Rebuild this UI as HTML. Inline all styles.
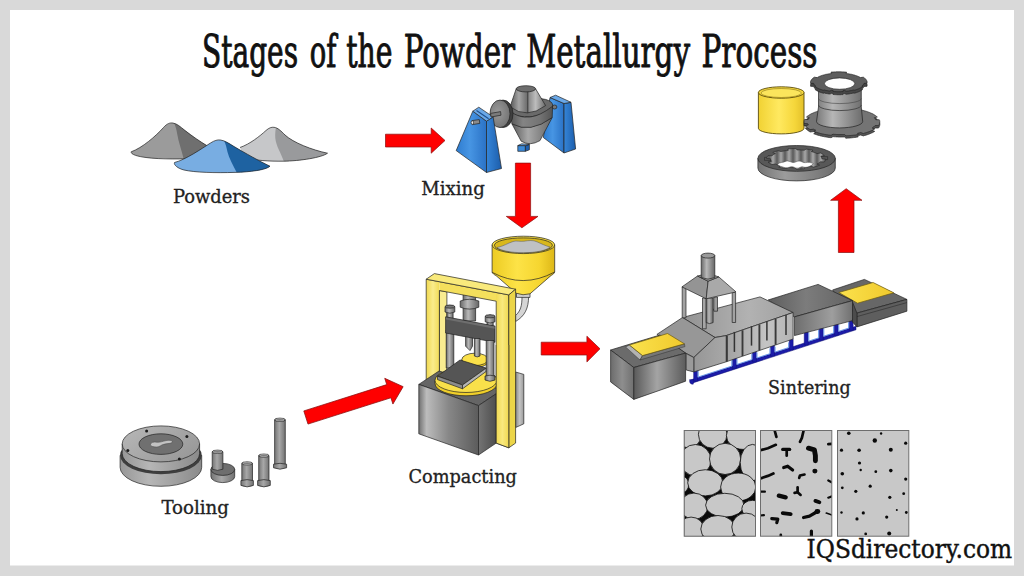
<!DOCTYPE html>
<html lang="en">
<head>
<meta charset="utf-8">
<title>Stages of the Powder Metallurgy Process</title>
<style>
html,body{margin:0;padding:0;background:#d9d9d9;}
body{width:1024px;height:576px;overflow:hidden;position:relative;font-family:"DejaVu Serif Condensed","DejaVu Serif","Liberation Serif",serif;}
#stage{position:absolute;left:0;top:0;width:1024px;height:576px;display:block;}
.ttl{font-family:"DejaVu Serif Condensed","DejaVu Serif","Liberation Serif",serif;font-size:45.3px;fill:#111;stroke:#111;stroke-width:0.95;stroke-linejoin:round;}
.lbl{font-family:"DejaVu Serif Condensed","DejaVu Serif","Liberation Serif",serif;font-size:18.4px;fill:#222;stroke:#222;stroke-width:0.3;}
.brand{font-family:"DejaVu Serif Condensed","DejaVu Serif","Liberation Serif",serif;font-size:25.5px;fill:#111;stroke:#111;stroke-width:0.4;}
.ol{stroke:#222;stroke-width:0.7;stroke-linejoin:round;}
.arrow{fill:#fe0000;stroke:#8a0f0f;stroke-width:0.7;stroke-linejoin:miter;}
</style>
</head>
<body>
<svg id="stage" width="1024" height="576" viewBox="0 0 1024 576">
<defs>

<linearGradient id="bF" x1="0" y1="0" x2="1" y2="0"><stop offset="0" stop-color="#2e7cd0"/><stop offset="0.45" stop-color="#4795e3"/><stop offset="1" stop-color="#2a72c6"/></linearGradient>
<linearGradient id="bS" x1="0" y1="0" x2="1" y2="0"><stop offset="0" stop-color="#3585d8"/><stop offset="1" stop-color="#1c5dab"/></linearGradient>
<linearGradient id="gCone" x1="0" y1="0" x2="1" y2="0"><stop offset="0" stop-color="#555"/><stop offset="0.25" stop-color="#a5a5a5"/><stop offset="0.47" stop-color="#707070"/><stop offset="0.5" stop-color="#3c3c3c"/><stop offset="0.53" stop-color="#8a8a8a"/><stop offset="0.72" stop-color="#bdbdbd"/><stop offset="1" stop-color="#6a6a6a"/></linearGradient>
<linearGradient id="gBand" x1="0" y1="0" x2="1" y2="0"><stop offset="0" stop-color="#565656"/><stop offset="0.3" stop-color="#848484"/><stop offset="0.7" stop-color="#747474"/><stop offset="1" stop-color="#545454"/></linearGradient>
<linearGradient id="gLow" x1="0" y1="0" x2="1" y2="0"><stop offset="0" stop-color="#5a5a5a"/><stop offset="0.4" stop-color="#a8a8a8"/><stop offset="1" stop-color="#646464"/></linearGradient>
<radialGradient id="gPul" cx="0.4" cy="0.45" r="0.7"><stop offset="0" stop-color="#9a9a9a"/><stop offset="1" stop-color="#6e6e6e"/></radialGradient>

<linearGradient id="yHop" x1="0" y1="0" x2="1" y2="0"><stop offset="0" stop-color="#eccb22"/><stop offset="0.4" stop-color="#fde347"/><stop offset="0.75" stop-color="#f6d630"/><stop offset="1" stop-color="#ddb717"/></linearGradient>
<linearGradient id="yCol" gradientUnits="userSpaceOnUse" x1="426" y1="0" x2="440" y2="0"><stop offset="0" stop-color="#f0d84e"/><stop offset="0.5" stop-color="#faec8c"/><stop offset="1" stop-color="#f1da52"/></linearGradient>
<linearGradient id="yColR" gradientUnits="userSpaceOnUse" x1="496" y1="0" x2="509" y2="0"><stop offset="0" stop-color="#f1da52"/><stop offset="0.5" stop-color="#f9e97e"/><stop offset="1" stop-color="#f0d84e"/></linearGradient>
<linearGradient id="gBlkF" x1="0" y1="0" x2="1" y2="0"><stop offset="0" stop-color="#707070"/><stop offset="0.13" stop-color="#bcbcbc"/><stop offset="0.5" stop-color="#878787"/><stop offset="1" stop-color="#5c5c5c"/></linearGradient>
<linearGradient id="gBlkS" x1="0" y1="0" x2="1" y2="0"><stop offset="0" stop-color="#747474"/><stop offset="1" stop-color="#4e4e4e"/></linearGradient>
<linearGradient id="gRod" x1="0" y1="0" x2="1" y2="0"><stop offset="0" stop-color="#6a6a6a"/><stop offset="0.4" stop-color="#b8b8b8"/><stop offset="1" stop-color="#666"/></linearGradient>
<linearGradient id="gBox" x1="0" y1="0" x2="1" y2="0"><stop offset="0" stop-color="#8a8a8a"/><stop offset="0.5" stop-color="#c4c4c4"/><stop offset="1" stop-color="#9a9a9a"/></linearGradient>

<linearGradient id="fTop" x1="0" y1="0" x2="1" y2="0"><stop offset="0" stop-color="#929292"/><stop offset="0.6" stop-color="#b2b2b2"/><stop offset="1" stop-color="#a0a0a0"/></linearGradient>
<linearGradient id="fSide" x1="0" y1="0" x2="1" y2="0"><stop offset="0" stop-color="#a2a2a2"/><stop offset="0.6" stop-color="#c4c4c4"/><stop offset="1" stop-color="#b4b4b4"/></linearGradient>
<linearGradient id="fHoodS" x1="0" y1="0" x2="1" y2="0"><stop offset="0" stop-color="#969696"/><stop offset="1" stop-color="#a8a8a8"/></linearGradient>
<linearGradient id="cTop" x1="0" y1="0" x2="1" y2="0"><stop offset="0" stop-color="#5e5e5e"/><stop offset="0.45" stop-color="#7c7c7c"/><stop offset="1" stop-color="#636363"/></linearGradient>
<linearGradient id="cSide" x1="0" y1="0" x2="1" y2="0"><stop offset="0" stop-color="#6e6e6e"/><stop offset="0.65" stop-color="#9e9e9e"/><stop offset="1" stop-color="#707070"/></linearGradient>
<linearGradient id="eL" x1="0" y1="0" x2="1" y2="0"><stop offset="0" stop-color="#6c6c6c"/><stop offset="0.5" stop-color="#8e8e8e"/><stop offset="1" stop-color="#707070"/></linearGradient>
<linearGradient id="eR" x1="0" y1="0" x2="1" y2="0"><stop offset="0" stop-color="#5a5a5a"/><stop offset="0.45" stop-color="#a4a4a4"/><stop offset="1" stop-color="#5c5c5c"/></linearGradient>
<linearGradient id="yPl" x1="0" y1="0" x2="1" y2="0"><stop offset="0" stop-color="#fbe24d"/><stop offset="1" stop-color="#f0c92c"/></linearGradient>

<linearGradient id="yCyl" x1="0" y1="0" x2="1" y2="0"><stop offset="0" stop-color="#f1d233"/><stop offset="0.45" stop-color="#ffe960"/><stop offset="0.8" stop-color="#f5d63a"/><stop offset="1" stop-color="#e3c02a"/></linearGradient>
<linearGradient id="gBody" x1="0" y1="0" x2="1" y2="0"><stop offset="0" stop-color="#7a7a7a"/><stop offset="0.35" stop-color="#b6b6b6"/><stop offset="0.7" stop-color="#8e8e8e"/><stop offset="1" stop-color="#6c6c6c"/></linearGradient>
<linearGradient id="gRing" x1="0" y1="0" x2="1" y2="0"><stop offset="0" stop-color="#757575"/><stop offset="0.35" stop-color="#9c9c9c"/><stop offset="1" stop-color="#6e6e6e"/></linearGradient>
<linearGradient id="gTeeth" gradientUnits="userSpaceOnUse" x1="769" y1="0" x2="777" y2="0" spreadMethod="repeat"><stop offset="0" stop-color="#5a5a5a"/><stop offset="0.45" stop-color="#a0a0a0"/><stop offset="0.55" stop-color="#a0a0a0"/><stop offset="1" stop-color="#5a5a5a"/></linearGradient>
<!--DEFS-->
</defs>
<rect x="0" y="0" width="1024" height="576" fill="#d9d9d9"/>
<rect x="10" y="10" width="1004" height="555.5" fill="#ffffff"/>

<!-- ===== TITLE ===== -->
<g class="ttl">
<text x="202" y="67.2" textLength="96" lengthAdjust="spacingAndGlyphs">Stages</text>
<text x="309.8" y="67.2" textLength="26.6" lengthAdjust="spacingAndGlyphs">of</text>
<text x="346.2" y="67.2" textLength="46.3" lengthAdjust="spacingAndGlyphs">the</text>
<text x="403.8" y="67.2" textLength="111.2" lengthAdjust="spacingAndGlyphs">Powder</text>
<text x="526.2" y="67.2" textLength="163.8" lengthAdjust="spacingAndGlyphs">Metallurgy</text>
<text x="701.5" y="67.2" textLength="116" lengthAdjust="spacingAndGlyphs">Process</text>
</g>

<!-- ===== LABELS ===== -->
<g class="lbl">
<text x="173" y="203" textLength="77" lengthAdjust="spacingAndGlyphs">Powders</text>
<text x="421.3" y="195" textLength="63.5" lengthAdjust="spacingAndGlyphs">Mixing</text>
<text x="408.5" y="483.1" textLength="108.4" lengthAdjust="spacingAndGlyphs">Compacting</text>
<text x="161.5" y="514.4" textLength="67.5" lengthAdjust="spacingAndGlyphs">Tooling</text>
<text x="768.1" y="394" textLength="82.5" lengthAdjust="spacingAndGlyphs">Sintering</text>
</g>
<text class="brand" x="806.6" y="557.8" textLength="205.6" lengthAdjust="spacingAndGlyphs">IQSdirectory.com</text>

<!-- ===== ARROWS ===== -->
<g class="arrow">
<path d="M385.5 134.2H431.2V128L445 140.5L431.2 153.2V147H385.5Z"/>
<path d="M515.4 163.1H530.6V216.4H538L521.9 227.8L506.3 216.4H515.4Z"/>
<path d="M541.2 342.2H586.9V336.2L600 348.8L586.9 361.9V355H541.2Z"/>
<path d="M838.4 252.5V200.3H830.6L846.2 188.7L862 200.3H854V252.5Z"/>
<g transform="translate(305.9 417.5) rotate(-17.6)"><path d="M0 -6.9H87V-13.5L102 0L87 13.5V6.9H0Z"/></g>
</g>

<!-- ===== POWDERS ===== -->
<g id="powders">

<!-- dark grey pile -->
<path fill="#9b9b9b" d="M131.2 151.8C142 148 156 136 163.5 127.5C167 123.5 170 122.6 172.8 123C177 123.6 180 126.5 185 130.5C192 136 200 141.5 207.5 146L196 158.5C185 159 160 159.5 146 157.5C138 156.5 130.5 154.5 131.2 151.8Z"/>
<path fill="#6f6f6f" d="M174.3 123.4C177 124.2 180 126.5 185 130.5C192 136 200 141.5 207.5 146L196 158.3L183.6 158.6C181.5 150 178.5 142 177.2 134C176.6 130 175.5 126 174.3 123.4Z"/>
<path class="ol" fill="none" d="M207.5 146C200 141.5 192 136 185 130.5C180 126.5 177 123.6 172.8 123C170 122.6 167 123.5 163.5 127.5C156 136 142 148 131.2 151.8C130.5 154.5 138 156.5 146 157.5C160 159.5 185 159 196 158.5"/>
<!-- light grey pile -->
<path fill="#c6c7c9" d="M240 147.5C250 144 260 136 266 130.5C269 127.8 271.5 127 274 127.3C278 127.8 281 131 285 135C293 142.5 312 150 327.5 153.2C322 157.5 300 161 283 161.2C270 161.3 255 160.5 245 158Z"/>
<path fill="#999a9c" d="M275.8 127.8C278.5 128.6 281 131 285 135C293 142.5 312 150 327.5 153.2C322 157.5 300 161 283.8 161.2C281 153 276 146 275.3 138C275 134 275.5 130.5 275.8 127.8Z"/>
<path class="ol" fill="none" d="M240 147.5C250 144 260 136 266 130.5C269 127.8 271.5 127 274 127.3C278 127.8 281 131 285 135C293 142.5 312 150 327.5 153.2C322 157.5 300 161 283 161.2C270 161.3 255 160.5 245 158"/>
<!-- blue pile -->
<path fill="#78ade2" d="M174.5 162.5C185 160 202 148.5 210.5 143C214.5 140.4 217.5 139.6 220.5 140C225 140.6 229 143.5 234 146.5C245 153 260 161.5 270 166.2C266 170 250 172 235 172.4C215 173 195 172.5 184 170C178 168.5 173.5 165 174.5 162.5Z"/>
<path fill="#1e62a1" d="M224.2 141C228 142.3 231 144.7 234 146.5C245 153 260 161.5 270 166.2C266 170 250 172 236.6 172.3C233 165 229 158 227.5 152C226.5 148 226 144.5 224.2 141Z"/>
<path class="ol" fill="none" stroke="#1a2f45" d="M174.5 162.5C185 160 202 148.5 210.5 143C214.5 140.4 217.5 139.6 220.5 140C225 140.6 229 143.5 234 146.5C245 153 260 161.5 270 166.2C266 170 250 172 235 172.4C215 173 195 172.5 184 170C178 168.5 173.5 165 174.5 162.5Z"/>

</g>

<!-- ===== MIXING ===== -->
<g id="mixer">

<g class="ol">
<!-- right stand -->
<path fill="url(#bF)" d="M550 97.5L564 103.5L564 153L543.3 137.5Z"/>
<path fill="url(#bS)" d="M564 103.5L571 102.3L575.6 149L564 153Z"/>
<path fill="#6aa8e8" d="M550 97.5L555.6 95.2L571 102.3L564 103.5Z"/>
<ellipse cx="554.5" cy="107" rx="2.4" ry="2" fill="#777"/>
<!-- double cone -->
<ellipse cx="531.5" cy="107.6" rx="21.3" ry="9" transform="rotate(-7 531.5 107.6)" fill="#6a6a6a"/>
<path fill="url(#gLow)" d="M511.9 123.8L521.2 141.2Q530 146.5 540 140.6L552.2 117.5Q530 133 511.9 123.8Z"/>
<path fill="url(#gBand)" d="M510.4 111.2Q528 125.5 552.6 106.2L552.2 117.5Q530 134 511.9 123.8Z"/>
<path fill="url(#gCone)" d="M516.2 88.8L510 106.9Q527 119.5 545.6 105.6L535.6 88.8Z"/>
<ellipse cx="525.9" cy="88.8" rx="9.7" ry="3.1" fill="#6d6d6d"/>
<!-- small discharge box -->
<path fill="#3b8ad9" d="M517.8 145.6H525.4V151.3H517.8Z"/>
<path fill="#1d5fae" d="M525.4 145.6L529.4 144.4V149.8L525.4 151.3Z"/>
<path fill="#6aa8e8" d="M517.8 145.6L521.6 143.8L529.4 144.4L525.4 145.6Z"/>
<!-- pulley -->
<ellipse cx="503" cy="113.8" rx="10" ry="13.75" fill="#3f3f3f"/>
<ellipse cx="500" cy="113.8" rx="10" ry="13.75" fill="url(#gPul)"/>
<!-- left stand -->
<path fill="url(#bF)" d="M472.8 111.2L486.5 121.2L486.5 172.5L456.2 150.6Z"/>
<path fill="url(#bS)" d="M486.5 121.2L493.1 116.9L501.5 168.5L486.5 172.5Z"/>
<path fill="#6aa8e8" d="M472.8 111.2L478.8 107.2L493.1 116.9L486.5 121.2Z"/>
<path fill="none" stroke="#1b4f8f" stroke-width="1.1" d="M476.5 110.5L488.6 118.8"/>
<!-- shafts -->
<path fill="#7b7b7b" d="M490.6 113.4L500.6 111.6L501 115.2L491 117Z"/>
<path fill="#8a8a8a" d="M472 120.6L479.3 119.6L479.8 123.4L472.5 124.6Z"/>
<ellipse cx="472.3" cy="122.6" rx="1.2" ry="1.9" fill="#f2f2f2"/>
</g>

</g>

<!-- ===== COMPACTING ===== -->
<g id="press">

<g class="ol">
<!-- box behind right column -->
<path fill="url(#gBox)" d="M515.6 372L523.8 374.4V423.8L515.6 427.5Z"/>
<!-- feed tube -->
<path fill="#d5d5d5" d="M522 296.5C522 306 520.5 311 515.6 315.5V321.5C525 316 528.6 308 528.6 296.5Z"/>
<!-- hopper -->
<path fill="#cfcfcf" d="M516.5 292.5H530V297.4H516.5Z"/>
<path fill="url(#yHop)" d="M492.1 244.9V272.3C492.8 273.6 494 274.6 496 275.6L516.2 293.2Q523 296 530 293.8L551.2 275.4C553 274.5 554.2 273.4 554.7 272V244.9Z"/>
<path fill="none" d="M492.1 272.3Q523 289 554.7 272"/>
<ellipse cx="523.4" cy="244.9" rx="31.3" ry="8.7" fill="#f7dc3c"/>
<ellipse cx="523.4" cy="245.3" rx="29" ry="7.4" fill="#d9b81c"/>
<path fill="#bfc1c4" stroke="#555" stroke-width="0.5" d="M497 247.5C503 246.5 508 243 513 241.5C517 240.3 520 241.8 524 241.2C529 240.4 533 240 537 241.8C541 243.6 546 246 550 247C546.5 250.5 536 252.7 523.4 252.7C511 252.7 500.5 250.6 497 247.5Z"/>
<!-- ram (behind top beam) -->
<path fill="url(#gRod)" d="M463.1 294H475.6V321H463.1Z"/>
<path fill="url(#gRod)" d="M460.2 301Q469.5 297.5 478.8 301V307.2Q469.5 311 460.2 307.2Z"/>
<!-- inner face of left column -->
<path fill="#f9ec90" d="M439.4 290.5L446.9 291.9V380H439.4Z"/>
<!-- frame front face -->
<path fill="url(#yCol)" d="M426.2 279.2L439.4 281.7V386H426.2Z" stroke="none"/>
<path fill="#f4df5c" d="M439.4 281.7L508.8 294.9V303.6L496.2 301.2L439.4 290.5Z" stroke="none"/>
<path fill="url(#yColR)" d="M496.2 292.5L508.8 294.9V447.8L496.2 443.1Z" stroke="none"/>
<path fill="none" d="M426.2 386V279.2L508.8 294.9V447.8L496.2 443.1V301.2L439.4 290.5V386"/>
<path fill="#f9ea7c" d="M426.2 279.2L434.4 273.6L515.6 289.2L508.8 294.9Z"/>
<path fill="#ecd548" d="M508.8 294.9L515.6 289.2V443.1L508.8 447.8Z"/>
<!-- guide post caps + upper posts -->
<path fill="url(#gRod)" d="M446.9 309H453.1V319H446.9Z"/>
<path fill="url(#gRod)" d="M445 306.6Q449.9 304 454.8 306.6V312Q449.9 314.5 445 312Z"/>
<ellipse cx="449.9" cy="306.6" rx="4.9" ry="1.6" fill="#777"/>
<path fill="url(#gRod)" d="M487 318H493.2V328H487Z"/>
<path fill="url(#gRod)" d="M485.2 316.3Q490.1 313.7 495 316.3V321.8Q490.1 324.3 485.2 321.8Z"/>
<ellipse cx="490.1" cy="316.3" rx="4.9" ry="1.6" fill="#777"/>
<!-- left guide post, punch -->
<path fill="url(#gRod)" d="M446.2 330H453.8V368H446.2Z"/>
<path fill="url(#gRod)" d="M465.6 336H472.5V346.2L470 350.6L465.6 346.2Z"/>
<!-- crossbar -->
<path fill="#555" d="M445.6 316.8L495 326.1V342.3L445.6 333Z"/>
<path fill="#6e6e6e" stroke="none" d="M446 317.4L494.6 326.6V328.8L446 319.6Z"/>
<!-- base block -->
<path fill="#656565" d="M418.8 384.4L439 371L501 389.6V397L496.2 393.8L478.5 405.6Z"/>
<path fill="url(#gBlkF)" d="M418.8 384.4L478.5 405.6V455L418.8 433.8Z"/>
<path fill="url(#gBlkS)" d="M478.5 405.6L496.2 393.8V443.1L478.5 455Z"/>
<!-- big yellow disc -->
<path fill="#f0cf2a" d="M435 380.5V383.6A31 12.2 0 0 0 497 383.6V380.5Z"/>
<ellipse cx="466" cy="380.3" rx="31" ry="12.2" fill="#f9e04a"/>
<!-- small upper disc -->
<path fill="#eecb25" d="M461.9 359.4V361.4A13.1 6.2 0 0 0 488.1 361.4V359.4Z"/>
<ellipse cx="475" cy="359.4" rx="13.1" ry="6.2" fill="#fbe14a"/>
<!-- grey plate -->
<path fill="#555" d="M437.5 376.2L460 360L486.2 368.1L462.5 385Z"/>
<path fill="#8c8c8c" d="M437.5 376.2L462.5 385V388.8L437.5 379.6Z"/>
<path fill="#b5b5b5" d="M462.5 385L486.2 368.1V371.4L462.5 388.8Z"/>
<!-- centre rod and right guide post -->
<path fill="url(#gRod)" d="M474.4 338.5H480V356Q477.2 357.8 474.4 356Z"/>
<path fill="url(#gRod)" d="M486.2 340.5H494V378H486.2Z"/>
<path fill="url(#gRod)" d="M485 376Q490 374.4 495 376V380Q490 382.6 485 380Z"/>
<!-- right column over block -->
<path fill="url(#yColR)" stroke="none" d="M496.2 345H508.8V447.8L496.2 443.1Z"/>
<path fill="none" d="M496.2 345V443.1L508.8 447.8V345"/>
</g>

</g>

<!-- ===== TOOLING ===== -->
<g id="tooling">

<defs>
<linearGradient id="gDie" x1="0" y1="0" x2="1" y2="0"><stop offset="0" stop-color="#979797"/><stop offset="0.35" stop-color="#b6b6b6"/><stop offset="1" stop-color="#8a8a8a"/></linearGradient>
<linearGradient id="gDieT" x1="0" y1="0" x2="1" y2="0.6"><stop offset="0" stop-color="#b8b8b8"/><stop offset="1" stop-color="#9a9a9a"/></linearGradient>
<linearGradient id="gPin" x1="0" y1="0" x2="1" y2="0"><stop offset="0" stop-color="#747474"/><stop offset="0.45" stop-color="#a8a8a8"/><stop offset="1" stop-color="#727272"/></linearGradient>
</defs>
<g class="ol">
<!-- die: lower flange -->
<path fill="url(#gDie)" d="M120.1 455.3V467.3A40.8 19 0 0 0 201.7 467.3V455.3Z"/>
<ellipse cx="160.9" cy="455.3" rx="40.8" ry="19" fill="#3e3e3e" stroke="none"/>
<!-- die: upper body -->
<path fill="url(#gDie)" d="M122.2 443.9V453.6A38.7 18 0 0 0 199.6 453.6V443.9Z"/>
<ellipse cx="160.9" cy="443.9" rx="38.7" ry="18" fill="url(#gDieT)"/>
<ellipse cx="160.9" cy="444.1" rx="21.9" ry="10.3" fill="#707070"/>
<path fill="#c2c2c2" stroke="#444" stroke-width="0.5" d="M150.5 444.2C150.8 442.6 153.5 441.6 156.5 442.2C159.5 442.7 163 441.2 166 440.6C169 440 172 440.3 172.3 441.5C172.6 442.8 170.5 443.4 168 443.6C165 443.9 162 444.6 160.5 445.8C158.5 447.3 155 447.2 152.8 446.6C151 446.1 150.3 445.2 150.5 444.2Z"/>
<g fill="#1c1c1c" stroke="none"><circle cx="146.6" cy="430.9" r="1.5"/><circle cx="186.9" cy="436.6" r="1.5"/><circle cx="127.8" cy="450.6" r="1.5"/><circle cx="179.4" cy="459.1" r="1.5"/></g>
<!-- punch with base -->
<path fill="url(#gPin)" d="M210.9 469.4V476.6A11.9 6 0 0 0 234.7 476.6V469.4Z"/>
<ellipse cx="222.8" cy="469.4" rx="11.9" ry="6" fill="#6e6e6e"/>
<path fill="url(#gPin)" d="M212.2 451.8V469.2Q217.5 471.6 222.9 469.2V451.8Z"/>
<ellipse cx="217.55" cy="451.8" rx="5.35" ry="1.7" fill="#8c8c8c"/><ellipse cx="217.55" cy="451.8" rx="4.05" ry="1.15" fill="#7a7a7a" stroke="#c4c4c4" stroke-width="0.5"/>
<!-- pin 2 -->
<path fill="url(#gPin)" d="M241.8 463.4V481H252.5V463.4Z"/>
<ellipse cx="247.15" cy="463.4" rx="5.35" ry="1.6" fill="#8c8c8c"/><ellipse cx="247.15" cy="463.4" rx="4.05" ry="1.05" fill="#7a7a7a" stroke="#c4c4c4" stroke-width="0.5"/>
<path fill="url(#gPin)" d="M240.9 480.6Q247.15 478.6 253.4 480.6V485.4Q247.15 488.4 240.9 485.4Z"/>
<!-- pin 3 -->
<path fill="url(#gPin)" d="M258.7 455.6V481H269V455.6Z"/>
<ellipse cx="263.85" cy="455.6" rx="5.15" ry="1.6" fill="#8c8c8c"/><ellipse cx="263.85" cy="455.6" rx="3.85" ry="1.05" fill="#7a7a7a" stroke="#c4c4c4" stroke-width="0.5"/>
<path fill="url(#gPin)" d="M257.6 480.6Q263.9 478.6 270.3 480.6V485.4Q263.9 488.4 257.6 485.4Z"/>
<!-- pin 4 tall -->
<path fill="url(#gPin)" d="M274.6 419.8V465H285.3V419.8Z"/>
<ellipse cx="279.95" cy="419.8" rx="5.35" ry="1.7" fill="#8c8c8c"/><ellipse cx="279.95" cy="419.8" rx="4.05" ry="1.15" fill="#7a7a7a" stroke="#c4c4c4" stroke-width="0.5"/>
<path fill="url(#gPin)" d="M273.5 464.2Q280 462.4 286.6 464.2V467.8Q280 470.6 273.5 467.8Z"/>
</g>

</g>

<!-- ===== SINTERING FURNACE ===== -->
<g id="furnace">

<g id="rails">
<path fill="#1b1ba8" stroke="#0d0d70" stroke-width="0.5" d="M691.2 379.8L856 326.2V329.8L691.2 383.4Z"/>
<path fill="#1b1ba8" stroke="#0d0d70" stroke-width="0.4" d="M693.6 369.0H697.6V381.0H693.6Z"/>
<path fill="#1b1ba8" stroke="#0d0d70" stroke-width="0.4" d="M732.4 356.9H736.4V368.4H732.4Z"/>
<path fill="#1b1ba8" stroke="#0d0d70" stroke-width="0.4" d="M752.4 350.7H756.4V361.9H752.4Z"/>
<path fill="#1b1ba8" stroke="#0d0d70" stroke-width="0.4" d="M770.5 345.0H774.5V356.0H770.5Z"/>
<path fill="#1b1ba8" stroke="#0d0d70" stroke-width="0.4" d="M789.2 339.2H793.2V349.9H789.2Z"/>
<path fill="#1b1ba8" stroke="#0d0d70" stroke-width="0.4" d="M804.2 330.6H808.2V345.0H804.2Z"/>
<path fill="#1b1ba8" stroke="#0d0d70" stroke-width="0.4" d="M819.2 326.7H823.2V340.1H819.2Z"/>
<path fill="#1b1ba8" stroke="#0d0d70" stroke-width="0.4" d="M834.2 322.8H838.2V335.3H834.2Z"/>
<path fill="#1b1ba8" stroke="#0d0d70" stroke-width="0.4" d="M849.2 318.9H853.2V330.4H849.2Z"/>
<path fill="none" stroke="#5f93ea" stroke-width="0.9" d="M698.2 370.7V377.0L731.8 366.1V360.2"/>
<path fill="none" stroke="#5f93ea" stroke-width="0.9" d="M737.0 358.6V364.4L751.8 359.6V354.0"/>
<path fill="none" stroke="#5f93ea" stroke-width="0.9" d="M757.0 352.4V357.9L769.9 353.7V348.3"/>
<path fill="none" stroke="#5f93ea" stroke-width="0.9" d="M775.1 346.7V352.0L788.6 347.6V342.5"/>
<path fill="none" stroke="#5f93ea" stroke-width="0.9" d="M808.8 332.4V341.1L818.6 337.9V329.9"/>
<path fill="none" stroke="#5f93ea" stroke-width="0.9" d="M823.8 328.5V336.2L833.6 333.0V326.0"/>
<path fill="none" stroke="#5f93ea" stroke-width="0.9" d="M838.8 324.6V331.3L848.6 328.1V322.1"/>
<path fill="#1b1ba8" stroke="#0d0d70" stroke-width="0.4" d="M689.6 379.6Q689.2 384.8 693.2 384.2L694 380Z"/>
</g>
<g class="ol">
<!-- exit block -->
<path fill="#676767" d="M832.5 290L864.4 279.4L906.9 299.4L856.9 313.1L846 308Z"/>
<path fill="#5e5e5e" d="M856.9 313.1L906.9 299.4V311.2L856.9 326.9Z"/>
<path fill="none" stroke-width="0.5" d="M856.9 316.6L906.9 302.6"/>
<path fill="#4c4c4c" d="M852.5 302L856.9 313.1V326.9L852.5 322Z"/>
<path fill="url(#yPl)" stroke="#6b5a10" d="M838.8 292.5L873.1 282.5L893.8 292.8L857.5 303.2Z"/>
<!-- cooling section -->
<path fill="url(#cTop)" d="M768.1 300L818.1 284.4L852.5 300.6L794.4 316.9Z"/>
<path fill="url(#cSide)" d="M794.4 316.9L852.5 300.6V320.6L794.4 335.6Z"/>
<!-- main furnace -->
<path fill="url(#fTop)" d="M682.5 317.5L760 296.9L793.1 312.5L726.2 335.6L715 337.5Z"/>
<path fill="url(#fSide)" d="M726.2 335.6L793.1 312.5V339L726.2 361.8Z"/>
<g fill="none" stroke-linecap="butt">
<path stroke="#3a3a3a" stroke-width="1.9" d="M726.9 335.7V361.4"/>
<path stroke="#3a3a3a" stroke-width="1.9" d="M742.5 330.3V356.0"/>
<path stroke="#3a3a3a" stroke-width="1.9" d="M759.4 324.4V350.3"/>
<path stroke="#3a3a3a" stroke-width="1.9" d="M775.6 318.9V344.8"/>
<path stroke="#333" stroke-width="1.5" d="M734.4 331.9V351.9"/>
<path stroke="#333" stroke-width="1.5" d="M751.5 326.2V345.6"/>
<path stroke="#333" stroke-width="1.5" d="M766.9 321.2V340.6"/>
<path stroke="#333" stroke-width="1.5" d="M786 315V335"/>
</g>
<!-- hood -->
<path fill="#979797" d="M656.9 334.4L682.5 317.5L715 337.5L693.8 357.5L685.6 353.1Z"/>
<path fill="url(#fHoodS)" d="M693.8 357.5L715 337.5L726.2 335.6V361.8L693.8 371.9Z"/>
<path fill="#9a9a9a" d="M686.2 353.5L693.8 357.5V371.9L686.2 370Z"/>
<!-- entry block -->
<path fill="#6b6b6b" d="M610.6 350L660 335L685.6 353.1L633.8 367.5Z"/>
<path fill="url(#eL)" d="M610.6 350L633.8 367.5V399.4L610.6 381.9Z"/>
<path fill="url(#eR)" d="M633.8 367.5L685.6 353.1V381.2L633.8 399.4Z"/>
<path fill="#b2b2b2" stroke-width="0.4" d="M625.6 346.9L629.4 345L642.5 355.6L640 360Z"/>
<path fill="#777" stroke-width="0.4" d="M640 360L642.5 355.6L684.4 343.8L685 346.6Z"/>
<path fill="url(#yPl)" stroke="#6b5a10" d="M629.4 345L667.5 333.5L684.4 343.8L642.5 355.6Z"/>
<!-- canopy and chimney -->
<path fill="#9a9a9a" d="M713.8 297H717.5V311.2H713.8Z"/>
<path fill="#a2a2a2" d="M682.2 287H686V317.8H682.2Z"/>
<path fill="#a2a2a2" d="M732.2 292.5H735.6V322.5H732.2Z"/>
<path fill="#a6a6a6" d="M702.5 298H706.2V328.8H702.5Z"/>
<path fill="url(#gRod)" d="M706.2 298H713.1V322.6Q709.6 324.6 706.2 322.6Z"/>
<path fill="#949494" d="M697.5 276L708.1 281.2L706.2 298.8L681.9 286.9Z"/>
<path fill="#a9a9a9" d="M708.1 281.2L718.8 276.9L736 291.9L706.2 298.8Z"/>
<path fill="#9a9a9a" d="M697.5 276L708.2 273.4L718.8 276.9L708.1 281.2Z"/>
<path fill="url(#gRod)" d="M701.2 255.6V277.6Q708 280.6 714.8 277.6V255.6Z"/>
<ellipse cx="708" cy="255.6" rx="6.8" ry="2.5" fill="#9a9a9a"/>
</g>

</g>

<!-- ===== PRODUCTS ===== -->
<g id="products">

<g class="ol">
<!-- yellow bushing -->
<path fill="url(#yCyl)" stroke="#5a4c0c" stroke-width="0.9" d="M758.4 92.5V128.3A22.8 5.6 0 0 0 804 128.3V92.5Z"/>
<ellipse cx="781.2" cy="92.5" rx="22.8" ry="5.7" fill="#f5d83e" stroke="#5a4c0c" stroke-width="0.9"/>
<ellipse cx="781.2" cy="93" rx="20.2" ry="4.5" fill="#fbe55c" stroke="#8a7418" stroke-width="0.6"/>
<!-- flanged hub: bottom flange -->
<path fill="#555" d="M879.8 124.4L879.8 124.8L879.7 125.1L879.7 125.5L879.6 125.9L879.5 126.2L879.3 126.6L879.2 126.9L879.0 127.3L878.8 127.6L878.5 128.0L875.0 128.0L874.7 128.3L874.4 128.6L874.1 128.9L873.8 129.2L873.4 129.5L873.0 129.8L872.6 130.1L872.2 130.4L874.7 131.3L874.2 131.7L873.7 132.0L873.1 132.3L872.6 132.6L872.0 132.9L871.4 133.1L870.7 133.4L870.1 133.7L869.4 134.0L868.7 134.2L868.0 134.5L867.3 134.7L866.5 135.0L865.8 135.2L865.0 135.4L864.2 135.6L863.4 135.9L860.7 135.0L859.9 135.2L859.1 135.4L858.4 135.5L857.6 135.7L858.2 136.9L857.3 137.1L856.4 137.2L855.5 137.4L854.6 137.5L853.6 137.6L852.7 137.7L851.7 137.8L850.7 137.9L849.8 138.0L848.8 138.1L847.8 138.1L846.8 138.2L845.9 138.2L844.6 137.0L843.7 137.0L842.8 137.0L841.9 137.0L841.0 137.0L840.1 137.0L839.2 137.0L838.3 137.0L837.4 136.9L836.5 136.9L835.6 136.8L834.7 136.8L833.8 136.7L833.0 136.6L831.1 137.7L830.2 137.6L829.2 137.5L828.3 137.4L827.4 137.2L826.5 137.1L825.6 136.9L824.7 136.8L823.8 136.6L822.9 136.4L822.1 136.3L821.3 136.1L820.4 135.9L819.6 135.6L818.8 135.4L818.0 135.2L817.3 135.0L816.5 134.7L815.8 134.5L815.1 134.2L814.4 134.0L813.7 133.7L815.7 132.6L815.1 132.4L814.5 132.1L814.0 131.8L813.5 131.6L810.1 132.0L809.6 131.7L809.1 131.3L808.6 131.0L808.1 130.7L807.7 130.4L807.3 130.1L806.9 129.7L806.5 129.4L806.2 129.0L805.9 128.7L805.6 128.3L805.3 128.0L808.4 127.4L808.2 127.0L808.0 126.7L807.8 126.4L807.7 126.1L804.2 125.9L804.1 125.5L804.1 125.1L804.0 124.8L804.0 124.4L804.0 124.0L804.1 123.7L804.1 123.3L804.2 122.9L804.3 122.6L804.5 122.2L804.6 121.9L808.2 121.8L808.4 121.4L808.6 121.1L808.8 120.8L809.1 120.5L809.4 120.2L806.5 119.4L806.9 119.1L807.3 118.7L807.7 118.4L808.1 118.1L808.6 117.8L809.1 117.5L809.6 117.1L810.1 116.8L810.7 116.5L811.2 116.2L811.8 115.9L812.4 115.7L813.1 115.4L813.7 115.1L814.4 114.8L815.1 114.6L815.8 114.3L816.5 114.1L817.3 113.8L818.0 113.6L818.8 113.4L819.6 113.2L820.4 112.9L821.3 112.7L822.1 112.5L822.9 112.4L823.8 112.2L824.7 112.0L825.6 111.9L826.5 111.7L827.4 111.6L828.3 111.4L829.2 111.3L830.2 111.2L831.1 111.1L832.1 111.0L833.1 110.9L834.0 110.8L835.0 110.7L836.0 110.7L837.0 110.6L837.9 110.6L838.9 110.5L839.9 110.5L840.9 110.5L841.9 110.5L842.9 110.5L843.9 110.5L844.9 110.5L845.9 110.6L846.8 110.6L847.8 110.7L848.8 110.7L849.8 110.8L850.7 110.9L851.7 111.0L852.7 111.1L853.6 111.2L854.6 111.3L855.5 111.4L856.4 111.6L857.3 111.7L858.2 111.9L859.1 112.0L860.0 112.2L860.9 112.4L861.7 112.5L862.5 112.7L863.4 112.9L864.2 113.2L865.0 113.4L865.8 113.6L866.5 113.8L867.3 114.1L868.0 114.3L868.7 114.6L869.4 114.8L870.1 115.1L870.7 115.4L871.4 115.7L872.0 115.9L872.6 116.2L873.1 116.5L873.7 116.8L874.2 117.1L874.7 117.5L875.2 117.8L875.7 118.1L876.1 118.4L876.5 118.7L876.9 119.1L877.3 119.4L874.4 120.2L874.7 120.5L875.0 120.8L875.2 121.1L875.4 121.4L875.6 121.8L875.8 122.1L879.3 122.2L879.5 122.6L879.6 122.9L879.7 123.3L879.7 123.7L879.8 124.0Z"/>
<path fill="#747474" d="M879.8 122.0L879.8 122.4L879.7 122.7L879.7 123.1L879.6 123.5L879.5 123.8L879.3 124.2L879.2 124.5L879.0 124.9L878.8 125.2L878.5 125.6L875.0 125.6L874.7 125.9L874.4 126.2L874.1 126.5L873.8 126.8L873.4 127.1L873.0 127.4L872.6 127.7L872.2 128.0L874.7 128.9L874.2 129.3L873.7 129.6L873.1 129.9L872.6 130.2L872.0 130.5L871.4 130.7L870.7 131.0L870.1 131.3L869.4 131.6L868.7 131.8L868.0 132.1L867.3 132.3L866.5 132.6L865.8 132.8L865.0 133.0L864.2 133.2L863.4 133.5L860.7 132.6L859.9 132.8L859.1 133.0L858.4 133.1L857.6 133.3L858.2 134.5L857.3 134.7L856.4 134.8L855.5 135.0L854.6 135.1L853.6 135.2L852.7 135.3L851.7 135.4L850.7 135.5L849.8 135.6L848.8 135.7L847.8 135.7L846.8 135.8L845.9 135.8L844.6 134.6L843.7 134.6L842.8 134.6L841.9 134.6L841.0 134.6L840.1 134.6L839.2 134.6L838.3 134.6L837.4 134.5L836.5 134.5L835.6 134.4L834.7 134.4L833.8 134.3L833.0 134.2L831.1 135.3L830.2 135.2L829.2 135.1L828.3 135.0L827.4 134.8L826.5 134.7L825.6 134.5L824.7 134.4L823.8 134.2L822.9 134.0L822.1 133.9L821.3 133.7L820.4 133.5L819.6 133.2L818.8 133.0L818.0 132.8L817.3 132.6L816.5 132.3L815.8 132.1L815.1 131.8L814.4 131.6L813.7 131.3L815.7 130.2L815.1 130.0L814.5 129.7L814.0 129.4L813.5 129.2L810.1 129.6L809.6 129.3L809.1 128.9L808.6 128.6L808.1 128.3L807.7 128.0L807.3 127.7L806.9 127.3L806.5 127.0L806.2 126.6L805.9 126.3L805.6 125.9L805.3 125.6L808.4 125.0L808.2 124.6L808.0 124.3L807.8 124.0L807.7 123.7L804.2 123.5L804.1 123.1L804.1 122.7L804.0 122.4L804.0 122.0L804.0 121.6L804.1 121.3L804.1 120.9L804.2 120.5L804.3 120.2L804.5 119.8L804.6 119.5L808.2 119.4L808.4 119.0L808.6 118.7L808.8 118.4L809.1 118.1L809.4 117.8L806.5 117.0L806.9 116.7L807.3 116.3L807.7 116.0L808.1 115.7L808.6 115.4L809.1 115.0L809.6 114.7L810.1 114.4L810.7 114.1L811.2 113.8L811.8 113.5L812.4 113.3L813.1 113.0L813.7 112.7L814.4 112.4L815.1 112.2L815.8 111.9L816.5 111.7L817.3 111.4L818.0 111.2L818.8 111.0L819.6 110.8L820.4 110.5L821.3 110.3L822.1 110.1L822.9 110.0L823.8 109.8L824.7 109.6L825.6 109.5L826.5 109.3L827.4 109.2L828.3 109.0L829.2 108.9L830.2 108.8L831.1 108.7L832.1 108.6L833.1 108.5L834.0 108.4L835.0 108.3L836.0 108.3L837.0 108.2L837.9 108.2L838.9 108.1L839.9 108.1L840.9 108.1L841.9 108.1L842.9 108.1L843.9 108.1L844.9 108.1L845.9 108.2L846.8 108.2L847.8 108.3L848.8 108.3L849.8 108.4L850.7 108.5L851.7 108.6L852.7 108.7L853.6 108.8L854.6 108.9L855.5 109.0L856.4 109.2L857.3 109.3L858.2 109.5L859.1 109.6L860.0 109.8L860.9 110.0L861.7 110.1L862.5 110.3L863.4 110.5L864.2 110.8L865.0 111.0L865.8 111.2L866.5 111.4L867.3 111.7L868.0 111.9L868.7 112.2L869.4 112.4L870.1 112.7L870.7 113.0L871.4 113.3L872.0 113.5L872.6 113.8L873.1 114.1L873.7 114.4L874.2 114.7L874.7 115.1L875.2 115.4L875.7 115.7L876.1 116.0L876.5 116.3L876.9 116.7L877.3 117.0L874.4 117.8L874.7 118.1L875.0 118.4L875.2 118.7L875.4 119.0L875.6 119.4L875.8 119.7L879.3 119.8L879.5 120.2L879.6 120.5L879.7 120.9L879.7 121.3L879.8 121.6Z"/>
<!-- hub body -->
<path fill="url(#gBody)" d="M818.5 89V107L816.5 121.5A23.1 6.4 0 0 0 862.7 121.5L861.3 107V89Z"/>
<path fill="none" stroke="#444" stroke-width="0.9" d="M818.5 105A21.4 5.6 0 0 0 861.3 105"/>
<path fill="none" stroke="#444" stroke-width="0.6" d="M818.5 98.4A21.4 5.2 0 0 0 861.3 98.4"/>
<!-- hub top flange -->
<path fill="#474747" d="M867.1 85.4L867.1 85.6L867.1 85.8L867.1 86.1L867.0 86.3L864.0 86.4L863.9 86.6L863.8 86.8L863.7 87.0L863.7 87.1L863.5 87.3L863.4 87.5L863.3 87.7L863.2 87.9L863.0 88.1L862.9 88.3L862.7 88.5L862.5 88.6L862.3 88.8L862.1 89.0L861.9 89.2L862.6 89.5L862.4 89.7L862.1 89.9L861.9 90.1L861.6 90.2L861.3 90.4L861.0 90.6L860.7 90.8L860.4 90.9L860.1 91.1L859.8 91.2L859.4 91.4L859.1 91.6L858.7 91.7L858.4 91.9L858.0 92.0L857.6 92.2L857.2 92.3L856.8 92.5L856.4 92.6L856.0 92.7L855.6 92.9L855.1 93.0L854.7 93.1L854.3 93.2L853.2 93.0L852.8 93.1L852.4 93.3L851.9 93.4L851.4 93.5L851.0 93.5L850.5 93.6L850.0 93.7L849.6 93.8L849.1 93.9L848.6 94.0L848.1 94.0L847.6 94.1L847.1 94.2L846.6 94.2L846.1 94.3L844.9 93.5L844.5 93.5L844.0 93.5L843.5 93.6L843.1 93.6L843.0 94.6L842.5 94.6L842.0 94.6L841.4 94.6L840.9 94.7L840.4 94.7L839.9 94.7L839.3 94.7L838.8 94.7L838.3 94.7L837.7 94.7L837.2 94.7L836.7 94.7L836.2 94.6L835.6 94.6L835.1 94.6L834.6 94.6L834.1 94.5L833.5 94.5L833.0 94.5L833.1 93.5L832.7 93.5L832.2 93.4L831.8 93.4L831.3 93.3L830.0 94.1L829.5 94.0L829.0 94.0L828.5 93.9L828.0 93.8L827.6 93.7L827.1 93.6L826.6 93.5L826.1 93.5L825.7 93.4L825.2 93.3L824.8 93.1L824.4 93.0L823.3 93.2L822.9 93.1L822.5 93.0L822.0 92.9L821.6 92.7L821.2 92.6L820.8 92.5L820.4 92.3L820.0 92.2L819.6 92.0L819.2 91.9L818.9 91.7L818.5 91.6L818.2 91.4L817.8 91.2L817.5 91.1L817.2 90.9L816.9 90.8L816.6 90.6L816.3 90.4L816.0 90.2L815.7 90.1L815.5 89.9L815.2 89.7L815.0 89.5L815.7 89.2L815.5 89.0L815.3 88.8L815.1 88.6L814.9 88.5L814.7 88.3L814.6 88.1L814.4 87.9L814.3 87.7L814.2 87.5L814.1 87.3L813.9 87.1L813.9 87.0L813.8 86.8L813.7 86.6L813.6 86.4L810.6 86.3L810.5 86.1L810.5 85.8L810.5 85.6L810.5 85.4L810.5 85.2L810.5 85.0L810.5 84.7L810.6 84.5L810.6 84.3L810.7 84.1L810.8 83.9L810.9 83.7L811.0 83.4L811.1 83.2L811.2 83.0L811.4 82.8L811.5 82.6L811.7 82.4L811.9 82.2L812.0 82.0L812.2 81.8L812.5 81.6L812.7 81.4L812.9 81.2L813.2 81.0L813.4 80.8L813.7 80.6L814.0 80.4L814.3 80.2L817.2 80.6L817.4 80.4L817.7 80.3L818.0 80.1L818.3 79.9L818.6 79.8L819.0 79.6L819.3 79.5L819.6 79.3L820.0 79.2L820.4 79.0L820.7 78.9L821.1 78.8L821.5 78.6L821.9 78.5L822.3 78.4L822.7 78.2L823.1 78.1L823.5 78.0L823.9 77.9L824.4 77.8L824.8 77.7L825.2 77.5L825.7 77.4L826.1 77.3L826.6 77.3L827.1 77.2L827.6 77.1L828.0 77.0L828.5 76.9L829.0 76.8L829.5 76.8L830.0 76.7L830.5 76.6L831.0 76.6L831.5 76.5L831.0 75.2L831.6 75.1L832.2 75.1L832.8 75.0L833.4 75.0L834.0 74.9L834.6 74.9L835.2 74.9L835.8 74.9L836.4 74.8L837.0 74.8L837.6 74.8L838.2 74.8L838.8 74.8L839.4 74.8L840.0 74.8L840.6 74.8L841.2 74.8L841.8 74.9L842.4 74.9L843.0 74.9L843.6 74.9L844.2 75.0L844.8 75.0L845.4 75.1L846.0 75.1L846.6 75.2L846.1 76.5L846.6 76.6L847.1 76.6L847.6 76.7L848.1 76.8L848.6 76.8L849.1 76.9L849.6 77.0L850.0 77.1L850.5 77.2L851.0 77.3L851.4 77.3L851.9 77.4L852.4 77.5L852.8 77.7L853.2 77.8L853.7 77.9L854.1 78.0L854.5 78.1L854.9 78.2L855.3 78.4L855.7 78.5L856.1 78.6L856.5 78.8L856.9 78.9L857.2 79.0L857.6 79.2L858.0 79.3L858.3 79.5L858.6 79.6L859.0 79.8L859.3 79.9L859.6 80.1L859.9 80.3L860.2 80.4L860.4 80.6L863.3 80.2L863.6 80.4L863.9 80.6L864.2 80.8L864.4 81.0L864.7 81.2L864.9 81.4L865.1 81.6L865.4 81.8L865.6 82.0L865.7 82.2L865.9 82.4L866.1 82.6L866.2 82.8L866.4 83.0L866.5 83.2L866.6 83.4L866.7 83.7L866.8 83.9L866.9 84.1L867.0 84.3L867.0 84.5L867.1 84.7L867.1 85.0L867.1 85.2Z"/>
<path fill="#5e5e5e" d="M867.1 82.4L867.1 82.6L867.1 82.8L867.1 83.1L867.0 83.3L864.0 83.4L863.9 83.6L863.8 83.8L863.7 84.0L863.7 84.1L863.5 84.3L863.4 84.5L863.3 84.7L863.2 84.9L863.0 85.1L862.9 85.3L862.7 85.5L862.5 85.6L862.3 85.8L862.1 86.0L861.9 86.2L862.6 86.5L862.4 86.7L862.1 86.9L861.9 87.1L861.6 87.2L861.3 87.4L861.0 87.6L860.7 87.8L860.4 87.9L860.1 88.1L859.8 88.2L859.4 88.4L859.1 88.6L858.7 88.7L858.4 88.9L858.0 89.0L857.6 89.2L857.2 89.3L856.8 89.5L856.4 89.6L856.0 89.7L855.6 89.9L855.1 90.0L854.7 90.1L854.3 90.2L853.2 90.0L852.8 90.1L852.4 90.3L851.9 90.4L851.4 90.5L851.0 90.5L850.5 90.6L850.0 90.7L849.6 90.8L849.1 90.9L848.6 91.0L848.1 91.0L847.6 91.1L847.1 91.2L846.6 91.2L846.1 91.3L844.9 90.5L844.5 90.5L844.0 90.5L843.5 90.6L843.1 90.6L843.0 91.6L842.5 91.6L842.0 91.6L841.4 91.6L840.9 91.7L840.4 91.7L839.9 91.7L839.3 91.7L838.8 91.7L838.3 91.7L837.7 91.7L837.2 91.7L836.7 91.7L836.2 91.6L835.6 91.6L835.1 91.6L834.6 91.6L834.1 91.5L833.5 91.5L833.0 91.5L833.1 90.5L832.7 90.5L832.2 90.4L831.8 90.4L831.3 90.3L830.0 91.1L829.5 91.0L829.0 91.0L828.5 90.9L828.0 90.8L827.6 90.7L827.1 90.6L826.6 90.5L826.1 90.5L825.7 90.4L825.2 90.3L824.8 90.1L824.4 90.0L823.3 90.2L822.9 90.1L822.5 90.0L822.0 89.9L821.6 89.7L821.2 89.6L820.8 89.5L820.4 89.3L820.0 89.2L819.6 89.0L819.2 88.9L818.9 88.7L818.5 88.6L818.2 88.4L817.8 88.2L817.5 88.1L817.2 87.9L816.9 87.8L816.6 87.6L816.3 87.4L816.0 87.2L815.7 87.1L815.5 86.9L815.2 86.7L815.0 86.5L815.7 86.2L815.5 86.0L815.3 85.8L815.1 85.6L814.9 85.5L814.7 85.3L814.6 85.1L814.4 84.9L814.3 84.7L814.2 84.5L814.1 84.3L813.9 84.1L813.9 84.0L813.8 83.8L813.7 83.6L813.6 83.4L810.6 83.3L810.5 83.1L810.5 82.8L810.5 82.6L810.5 82.4L810.5 82.2L810.5 82.0L810.5 81.7L810.6 81.5L810.6 81.3L810.7 81.1L810.8 80.9L810.9 80.7L811.0 80.4L811.1 80.2L811.2 80.0L811.4 79.8L811.5 79.6L811.7 79.4L811.9 79.2L812.0 79.0L812.2 78.8L812.5 78.6L812.7 78.4L812.9 78.2L813.2 78.0L813.4 77.8L813.7 77.6L814.0 77.4L814.3 77.2L817.2 77.6L817.4 77.4L817.7 77.3L818.0 77.1L818.3 76.9L818.6 76.8L819.0 76.6L819.3 76.5L819.6 76.3L820.0 76.2L820.4 76.0L820.7 75.9L821.1 75.8L821.5 75.6L821.9 75.5L822.3 75.4L822.7 75.2L823.1 75.1L823.5 75.0L823.9 74.9L824.4 74.8L824.8 74.7L825.2 74.5L825.7 74.4L826.1 74.3L826.6 74.3L827.1 74.2L827.6 74.1L828.0 74.0L828.5 73.9L829.0 73.8L829.5 73.8L830.0 73.7L830.5 73.6L831.0 73.6L831.5 73.5L831.0 72.2L831.6 72.1L832.2 72.1L832.8 72.0L833.4 72.0L834.0 71.9L834.6 71.9L835.2 71.9L835.8 71.9L836.4 71.8L837.0 71.8L837.6 71.8L838.2 71.8L838.8 71.8L839.4 71.8L840.0 71.8L840.6 71.8L841.2 71.8L841.8 71.9L842.4 71.9L843.0 71.9L843.6 71.9L844.2 72.0L844.8 72.0L845.4 72.1L846.0 72.1L846.6 72.2L846.1 73.5L846.6 73.6L847.1 73.6L847.6 73.7L848.1 73.8L848.6 73.8L849.1 73.9L849.6 74.0L850.0 74.1L850.5 74.2L851.0 74.3L851.4 74.3L851.9 74.4L852.4 74.5L852.8 74.7L853.2 74.8L853.7 74.9L854.1 75.0L854.5 75.1L854.9 75.2L855.3 75.4L855.7 75.5L856.1 75.6L856.5 75.8L856.9 75.9L857.2 76.0L857.6 76.2L858.0 76.3L858.3 76.5L858.6 76.6L859.0 76.8L859.3 76.9L859.6 77.1L859.9 77.3L860.2 77.4L860.4 77.6L863.3 77.2L863.6 77.4L863.9 77.6L864.2 77.8L864.4 78.0L864.7 78.2L864.9 78.4L865.1 78.6L865.4 78.8L865.6 79.0L865.7 79.2L865.9 79.4L866.1 79.6L866.2 79.8L866.4 80.0L866.5 80.2L866.6 80.4L866.7 80.7L866.8 80.9L866.9 81.1L867.0 81.3L867.0 81.5L867.1 81.7L867.1 82.0L867.1 82.2Z"/>
<ellipse cx="839.6" cy="83.6" rx="15.2" ry="5.7" fill="#fff"/>
<!-- ring with internal spline -->
<path fill="url(#gRing)" d="M757.9 158.4V168A38.7 12.9 0 0 0 835.3 168V158.4Z"/>
<ellipse cx="796.6" cy="158.4" rx="38.7" ry="12.9" fill="#585858"/>
<path fill="#585858" stroke-width="0.5" d="M764.5 157.4H771V160.4H764.5ZM821 156.6H827.6V159.6H821Z"/>
<path fill="url(#gTeeth)" stroke-width="0.6" d="M821.9 158.8L825.7 159.1L825.7 159.3L825.6 159.6L825.6 159.9L825.5 160.1L825.4 160.4L825.2 160.7L825.1 160.9L824.9 161.2L824.7 161.5L824.5 161.7L824.3 162.0L820.4 161.8L820.2 162.0L819.9 162.2L819.6 162.4L819.4 162.6L819.1 162.9L818.8 163.1L818.4 163.3L818.1 163.5L817.7 163.7L817.4 163.9L817.0 164.0L819.6 165.1L819.2 165.3L818.7 165.5L818.1 165.7L817.6 165.9L817.1 166.1L816.5 166.3L816.0 166.4L815.4 166.6L814.8 166.8L814.2 166.9L813.6 167.1L810.7 166.2L810.2 166.3L809.6 166.4L809.0 166.5L808.4 166.6L807.9 166.8L807.3 166.9L806.6 167.0L806.0 167.0L805.4 167.1L804.8 167.2L804.1 167.3L804.6 168.6L803.8 168.7L803.1 168.8L802.3 168.8L801.6 168.9L800.8 168.9L800.1 169.0L799.3 169.0L798.5 169.0L797.7 169.1L797.0 169.1L796.2 169.1L795.5 167.7L794.9 167.7L794.2 167.7L793.5 167.7L792.8 167.7L792.2 167.6L791.5 167.6L790.9 167.5L790.2 167.5L789.6 167.4L788.9 167.4L788.3 167.3L786.3 168.5L785.6 168.4L784.9 168.3L784.2 168.2L783.5 168.1L782.8 168.0L782.1 167.8L781.4 167.7L780.8 167.6L780.1 167.4L779.5 167.3L778.8 167.1L780.6 165.9L780.0 165.7L779.5 165.6L779.0 165.4L778.5 165.3L778.0 165.1L777.6 164.9L777.1 164.8L776.7 164.6L776.3 164.4L775.8 164.2L775.4 164.0L771.9 164.6L771.4 164.4L771.0 164.2L770.6 163.9L770.2 163.7L769.9 163.5L769.5 163.2L769.2 163.0L768.9 162.7L768.6 162.5L768.4 162.2L768.1 162.0L771.6 161.3L771.4 161.1L771.2 160.9L771.1 160.7L771.0 160.4L770.8 160.2L770.8 160.0L770.7 159.7L770.6 159.5L770.6 159.3L770.5 159.0L770.5 158.8L766.7 158.5L766.7 158.3L766.8 158.0L766.8 157.7L766.9 157.5L767.0 157.2L767.2 156.9L767.3 156.7L767.5 156.4L767.7 156.1L767.9 155.9L768.1 155.6L772.0 155.8L772.2 155.6L772.5 155.4L772.8 155.2L773.0 155.0L773.3 154.7L773.6 154.5L774.0 154.3L774.3 154.1L774.7 153.9L775.0 153.7L775.4 153.6L772.8 152.5L773.2 152.3L773.7 152.1L774.3 151.9L774.8 151.7L775.3 151.5L775.9 151.3L776.4 151.2L777.0 151.0L777.6 150.8L778.2 150.7L781.1 151.6L781.7 151.4L782.2 151.3L782.8 151.2L783.4 151.1L784.0 151.0L784.5 150.8L785.1 150.7L785.8 150.6L786.4 150.6L787.0 150.5L787.6 150.4L788.3 150.3L787.8 149.0L788.6 148.9L789.3 148.8L790.1 148.8L790.8 148.7L791.6 148.7L792.3 148.6L793.1 148.6L793.9 148.6L794.7 148.5L795.4 148.5L796.2 148.5L796.9 149.9L797.5 149.9L798.2 149.9L798.9 149.9L799.6 149.9L800.2 150.0L800.9 150.0L801.5 150.1L802.2 150.1L802.8 150.2L803.5 150.2L804.1 150.3L806.1 149.1L806.8 149.2L807.5 149.3L808.2 149.4L808.9 149.5L809.6 149.6L810.3 149.8L811.0 149.9L811.6 150.0L812.3 150.2L812.9 150.3L811.3 151.6L811.8 151.7L812.4 151.9L812.9 152.0L813.4 152.2L813.9 152.3L814.4 152.5L814.8 152.7L815.3 152.8L815.7 153.0L816.1 153.2L816.6 153.4L817.0 153.6L820.5 153.0L821.0 153.2L821.4 153.4L821.8 153.7L822.2 153.9L822.5 154.1L822.9 154.4L823.2 154.6L823.5 154.9L823.8 155.1L824.0 155.4L824.3 155.6L820.8 156.3L821.0 156.5L821.2 156.7L821.3 156.9L821.4 157.2L821.6 157.4L821.6 157.6L821.7 157.9L821.8 158.1L821.8 158.3L821.9 158.6Z"/>
<path fill="#fff" stroke="#444" stroke-width="0.5" d="M777.5 164.2C780 162 783 162.6 785.5 161.4C788 160.2 790 161.8 792.5 162.4C795 163 796.5 161 799 161C801.5 161 803 163 805.5 162.6C808 162.2 810.5 162.2 813.4 163.6C811 166.6 806 168 803.5 167C801 166 799.5 168.4 797 168.2C794.5 168 793.5 166.2 791 166.8C788.5 167.4 786.5 168.4 784 167.4C781.5 166.4 779 166.4 777.5 164.2Z"/>
</g>

</g>

<!-- ===== MICROSTRUCTURE PANELS ===== -->
<g id="micro">
<defs><clipPath id="cp1"><rect x="684.2" y="430.5" width="71.3" height="105.7"/></clipPath><clipPath id="cp2"><rect x="760.5" y="430.5" width="71.3" height="105.7"/></clipPath><clipPath id="cp3"><rect x="837.5" y="430.5" width="71.3" height="105.7"/></clipPath></defs>
<rect x="684.2" y="430.5" width="71.3" height="105.7" fill="#0a0a0a"/>
<g clip-path="url(#cp1)" fill="#c8c8c8" stroke="#0a0a0a" stroke-width="0.8">
<ellipse cx="688.3" cy="433.9" rx="13.5" ry="13.9"/>
<ellipse cx="712.7" cy="434.3" rx="14.3" ry="13.9"/>
<ellipse cx="743.0" cy="435.5" rx="16.6" ry="13.9"/>
<ellipse cx="695.4" cy="460.1" rx="15.6" ry="15.6"/>
<ellipse cx="725.1" cy="458.9" rx="15.6" ry="15.6"/>
<ellipse cx="752.5" cy="462.6" rx="12.3" ry="18.2"/>
<ellipse cx="682.8" cy="484.4" rx="5.9" ry="7.9"/>
<ellipse cx="705.3" cy="482.8" rx="17.6" ry="13.1"/>
<ellipse cx="738.2" cy="487.0" rx="17.6" ry="13.9"/>
<ellipse cx="693.9" cy="506.2" rx="13.9" ry="13.1"/>
<ellipse cx="724.8" cy="505.2" rx="19.2" ry="11.9"/>
<ellipse cx="752.5" cy="508.8" rx="10.7" ry="8.5"/>
<ellipse cx="691.1" cy="529.8" rx="13.1" ry="12.7"/>
<ellipse cx="718.0" cy="529.0" rx="17.2" ry="13.5"/>
<ellipse cx="746.1" cy="527.0" rx="14.3" ry="13.9"/>
</g>
<rect x="760.5" y="430.5" width="71.3" height="105.7" fill="#c8c8c8"/>
<g clip-path="url(#cp2)" fill="none" stroke="#0a0a0a" stroke-linecap="round" stroke-linejoin="round">
<path d="M774.8 431.0L776.4 436.9" stroke-width="2.7"/>
<path d="M803.5 431.0L801.9 437.9L800.0 441.8" stroke-width="2.7"/>
<path d="M828.3 444.2L832.0 443.8" stroke-width="2.7"/>
<path d="M760.4 450.2L767.9 448.2L775.8 444.8" stroke-width="2.7"/>
<path d="M782.7 449.4L789.7 449.4" stroke-width="3.2"/>
<path d="M786.7 449.4L786.7 455.7" stroke-width="2.7"/>
<path d="M808.5 448.2L814.4 449.8L815.4 455.7L815.4 460.7" stroke-width="4.9"/>
<path d="M783.7 467.6L787.7 466.2L792.6 470.0" stroke-width="3.2"/>
<path d="M814.8 471.1L815.0 471.1" stroke-width="4.9"/>
<path d="M760.4 478.5L767.9 475.9L773.4 473.5" stroke-width="2.7"/>
<path d="M799.2 477.9L800.0 475.5L804.5 474.5" stroke-width="2.7"/>
<path d="M828.3 480.5L832.0 482.4" stroke-width="2.2"/>
<path d="M760.4 491.7L764.9 491.7" stroke-width="2.2"/>
<path d="M797.6 487.4L797.6 492.3" stroke-width="2.7"/>
<path d="M794.6 492.9L797.6 492.3L800.6 494.9" stroke-width="2.7"/>
<path d="M778.8 495.7L785.7 497.3" stroke-width="4.3"/>
<path d="M815.4 500.9L819.4 502.2" stroke-width="3.8"/>
<path d="M828.3 497.7L832.0 496.3" stroke-width="2.2"/>
<path d="M760.4 515.5L763.9 515.1" stroke-width="2.2"/>
<path d="M782.7 513.1L790.7 514.1" stroke-width="3.8"/>
<path d="M803.5 517.5L809.5 516.1L817.4 511.5" stroke-width="3.2"/>
<path d="M817.0 511.5L817.8 511.5" stroke-width="4.9"/>
<path d="M826.3 513.1L832.0 515.1" stroke-width="1.6"/>
<path d="M771.8 518.7L777.8 519.1L776.8 522.6" stroke-width="3.2"/>
<path d="M780.8 534.9L780.8 536.5" stroke-width="2.7"/>
<path d="M811.4 531.0L811.4 536.5" stroke-width="3.2"/>
</g>
<rect x="837.5" y="430.5" width="71.3" height="105.7" fill="#c8c8c8"/>
<g clip-path="url(#cp3)" fill="#0a0a0a">
<circle cx="848.8" cy="433.3" r="1.8"/>
<circle cx="881.1" cy="433.5" r="1.2"/>
<circle cx="874.8" cy="440.5" r="2.2"/>
<circle cx="905.7" cy="443.2" r="1.6"/>
<circle cx="841.5" cy="450.2" r="1.6"/>
<circle cx="859.1" cy="450.2" r="1.8"/>
<circle cx="890.8" cy="449.8" r="2.0"/>
<circle cx="859.5" cy="463.0" r="1.6"/>
<circle cx="860.7" cy="470.0" r="1.2"/>
<circle cx="875.8" cy="471.7" r="1.4"/>
<circle cx="890.8" cy="470.6" r="1.8"/>
<circle cx="842.3" cy="473.7" r="1.8"/>
<circle cx="905.7" cy="479.1" r="1.6"/>
<circle cx="870.2" cy="486.2" r="1.6"/>
<circle cx="842.3" cy="487.8" r="1.4"/>
<circle cx="855.8" cy="491.3" r="1.6"/>
<circle cx="903.7" cy="493.7" r="1.4"/>
<circle cx="889.8" cy="497.3" r="1.6"/>
<circle cx="896.8" cy="510.0" r="1.0"/>
<circle cx="841.5" cy="512.5" r="1.2"/>
<circle cx="863.3" cy="512.9" r="1.6"/>
<circle cx="906.3" cy="512.5" r="1.4"/>
<circle cx="886.7" cy="517.1" r="1.6"/>
<circle cx="857.0" cy="518.9" r="1.6"/>
<circle cx="865.7" cy="533.9" r="1.4"/>
<circle cx="889.2" cy="533.5" r="2.0"/>
</g>
<rect x="684.2" y="430.5" width="71.3" height="105.7" fill="none" stroke="#6e6e6e" stroke-width="1"/>
<rect x="760.5" y="430.5" width="71.3" height="105.7" fill="none" stroke="#6e6e6e" stroke-width="1"/>
<rect x="837.5" y="430.5" width="71.3" height="105.7" fill="none" stroke="#6e6e6e" stroke-width="1"/>
</g>
</svg>
</body>
</html>
